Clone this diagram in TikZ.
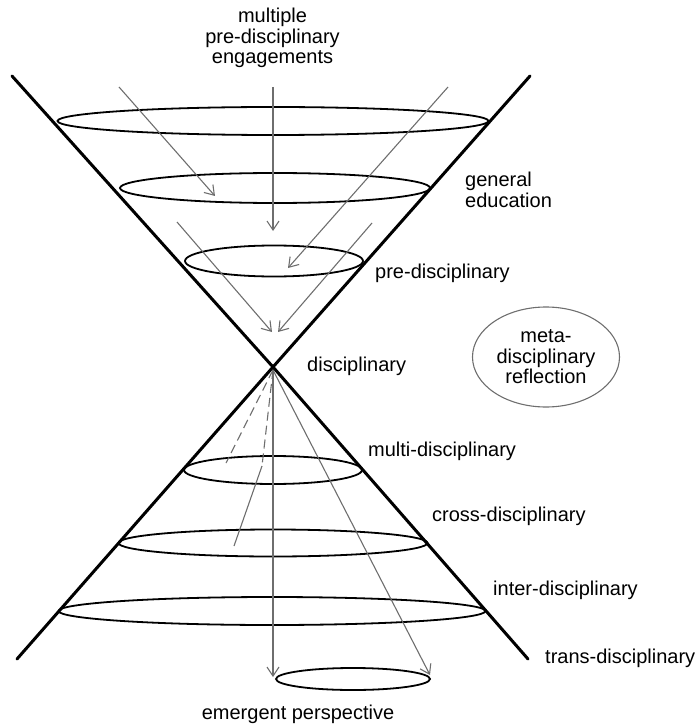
\documentclass[tikz,border=0pt]{standalone}
\usepackage{fontspec}
\setmainfont{Liberation Sans}
\usetikzlibrary{shapes.geometric,arrows.meta}
\definecolor{arrowgray}{RGB}{110,110,110}
\tikzset{
  cone/.style={line width=3pt,black,line cap=round},
  ring/.style={draw=black,line width=1.8pt,ellipse,inner sep=0pt},
  flow/.style={draw=arrowgray,line width=1.1pt,-{Straight Barb[length=9pt,width=12pt]}},
  flowline/.style={draw=arrowgray,line width=1.1pt},
  flowdash/.style={draw=arrowgray,line width=1.1pt,dash pattern=on 9pt off 5pt},
  lbl/.style={font=\fontsize{20}{20.5}\selectfont,inner sep=0pt},
}
\begin{document}
\begin{tikzpicture}[x=1pt,y=-1pt]
\useasboundingbox (0,0) rectangle (698,727);
% cone lines
\coordinate (C) at (273,367);
\coordinate (UL) at (12,76);
\coordinate (UR) at (530,76);
\coordinate (LL) at (17,659);
\coordinate (LR) at (528,659);
% ellipses
\node[ring,minimum width=431,minimum height=28] (e1) at (273,121) {};
\node[ring,minimum width=310,minimum height=30] (e2) at (275,188) {};
\node[ring,minimum width=178,minimum height=31] (e3) at (274,261) {};
\node[ring,minimum width=178,minimum height=28] (e4) at (273,470) {};
\node[ring,minimum width=309,minimum height=27] (e5) at (273,543) {};
\node[ring,minimum width=427,minimum height=28] (e6) at (272,611) {};
\node[ring,minimum width=154,minimum height=22] (e7) at (353,679) {};
\draw[cone] (UL) -- (C) -- (LR);
\draw[cone] (UR) -- (C) -- (LL);
% upper arrows
\coordinate (a1s) at (119,87);  \coordinate (a1e) at (215,196);
\coordinate (a2s) at (273,87);  \coordinate (a2e) at (273,231);
\coordinate (a3s) at (448,87);  \coordinate (a3e) at (288,268);
\coordinate (a4s) at (177,222); \coordinate (a4e) at (272,332);
\coordinate (a5s) at (372,223); \coordinate (a5e) at (278,332);
\draw[flow] (a1s) -- (a1e);
\draw[flow] (a2s) -- (a2e);
\draw[flow] (a3s) -- (a3e);
\draw[flow] (a4s) -- (a4e);
\draw[flow] (a5s) -- (a5e);
% lower lines
\coordinate (b0) at (273,370);
\coordinate (b1e) at (273,677);
\coordinate (b2e) at (430,675);
\coordinate (d1e) at (226,463);
\coordinate (d2m) at (262,466);
\coordinate (d2e) at (234,546);
\draw[flow] (b0) -- (b1e);
\draw[flow] (b0) -- (b2e);
\draw[flowdash] (b0) -- (d1e);
\draw[flowdash] (b0) -- (d2m);
\draw[flowline] (d2m) -- (d2e);
% meta ellipse
\node[ellipse,draw=arrowgray,line width=1.1pt,minimum width=147,minimum height=100,inner sep=0pt,
  lbl,align=center] (meta) at (546,357) {meta-\\disciplinary\\reflection};
% labels
\node[lbl,align=center] (top) at (272.5,38) {multiple\\pre-disciplinary\\engagements};
\node[lbl,align=left,anchor=west] (gen) at (465,190) {general\\education};
\node[lbl,anchor=west] (pre) at (375,273) {pre-disciplinary};
\node[lbl,anchor=west] (dis) at (307,366) {disciplinary};
\node[lbl,anchor=west] (mul) at (368,451) {multi-disciplinary};
\node[lbl,anchor=west] (cro) at (432,516) {cross-disciplinary};
\node[lbl,anchor=west] (int) at (493,590) {inter-disciplinary};
\node[lbl,anchor=west] (tra) at (545,658) {trans-disciplinary};
\node[lbl] (eme) at (298,714) {emergent perspective};
\end{tikzpicture}
\end{document}
